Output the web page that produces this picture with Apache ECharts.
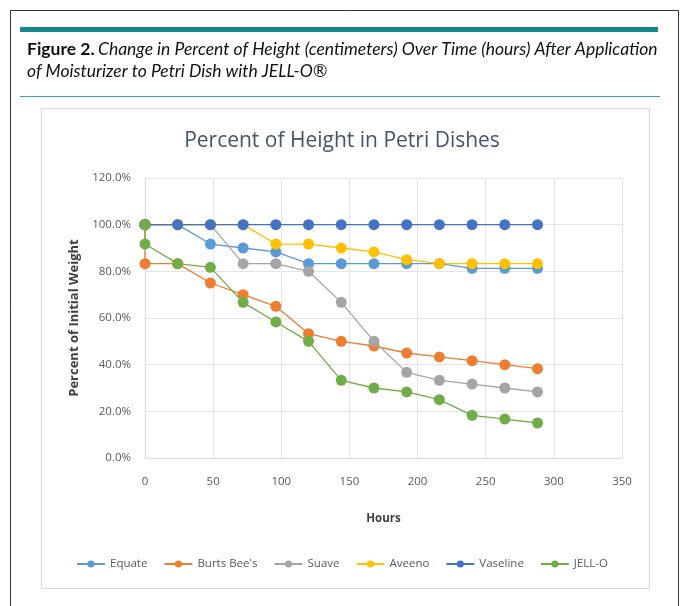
<!DOCTYPE html>
<html>
<head>
<meta charset="utf-8">
<script src="https://cdn.jsdelivr.net/npm/echarts@6/dist/echarts.min.js"></script>
<style>
html,body{margin:0;padding:0;background:#fff;}
#c{width:684px;height:606px;}
</style>
</head>
<body>
<div id="c"></div>
<script>
var hours = [0, 0, 24, 48, 72, 96, 120, 144, 168, 192, 216, 240, 264, 288];
var seriesNames = ['Equate', "Burts Bee's", 'Suave', 'Aveeno', 'Vaseline', 'JELL-O'];
var equate   = [100, 100, 100, 91.7, 90, 88.3, 83.3, 83.3, 83.3, 83.3, 83.3, 81.3, 81.3, 81.3];
var burtsBees = [100, 83.3, 83.3, 75, 70, 65, 53.3, 50, 48, 45, 43.3, 41.7, 40, 38.3];
var suave    = [100, 100, 100, 100, 83.3, 83.3, 80, 66.7, 50, 36.7, 33.3, 31.7, 30, 28.3];
var aveeno   = [100, 100, 100, 100, 100, 91.7, 91.7, 90, 88.3, 85, 83.3, 83.3, 83.3, 83.3];
var vaseline = [100, 100, 100, 100, 100, 100, 100, 100, 100, 100, 100, 100, 100, 100];
var jello    = [100, 91.7, 83.3, 81.7, 66.7, 58.3, 50, 33.3, 30, 28.3, 25, 18.3, 16.7, 15];
var colors = ['#5B9BD5', '#ED7D31', '#A5A5A5', '#FFC000', '#4472C4', '#70AD47'];
var allValues = [equate, burtsBees, suave, aveeno, vaseline, jello];

var chart = echarts.init(document.getElementById('c'), null, {renderer: 'canvas'});

var series = seriesNames.map(function (name, i) {
  return {
    name: name,
    type: 'line',
    data: hours.map(function (h, j) { return [h, allValues[i][j]]; }),
    symbol: 'circle',
    symbolSize: 11,
    showSymbol: true,
    itemStyle: {color: colors[i]},
    lineStyle: {color: colors[i], width: 1.3},
    z: 2 + i,
    animation: false
  };
});

var option = {
  animation: false,
  backgroundColor: '#ffffff',
  color: colors,
  title: [{
    text: 'Percent of Height in Petri Dishes',
    left: 'center',
    top: 126,
    textStyle: {fontFamily: 'Open Sans', fontSize: 21, fontWeight: 'normal', color: '#44546A'}
  }],
  graphic: [
    {type: 'rect', shape: {x: 10.5, y: 10.5, width: 668, height: 620}, style: {fill: 'none', stroke: '#333', lineWidth: 1}, silent: true},
    {type: 'rect', shape: {x: 20, y: 27, width: 638, height: 5}, style: {fill: '#16878A'}, silent: true},
    {type: 'rect', shape: {x: 20, y: 96, width: 640, height: 1}, style: {fill: '#3FA3A6'}, silent: true},
    {type: 'rect', shape: {x: 41.5, y: 108.5, width: 608, height: 480}, style: {fill: 'none', stroke: '#D9D9D9', lineWidth: 1}, silent: true},
    {type: 'text', left: 27, top: 40,
      style: {
        text: '{b|Figure 2.} {i|Change in Percent of Height (centimeters) Over Time (hours) After Application}\n{i|of Moisturizer to Petri Dish with JELL-O®}',
        rich: {
          b: {fontFamily: 'Lato', fontWeight: 'bold', fontSize: 17.5, fill: '#111', lineHeight: 22},
          i: {fontFamily: 'Lato', fontStyle: 'italic', fontSize: 17.5, fill: '#111', lineHeight: 22}
        }
      }, silent: true}
  ],
  legend: {
    data: seriesNames,
    bottom: 31,
    left: 'center',
    itemWidth: 28,
    itemHeight: 9,
    itemGap: 16,
    textStyle: {fontFamily: 'Open Sans', fontSize: 11.5, color: '#595959'}
  },
  grid: {left: 145, right: 62, top: 178, bottom: 148, containLabel: false},
  xAxis: {
    type: 'value',
    min: 0, max: 350, interval: 50,
    name: 'Hours',
    nameLocation: 'middle',
    nameGap: 55,
    nameTextStyle: {fontFamily: 'Open Sans', fontWeight: 'bold', fontSize: 11.5, color: '#404040'},
    axisLine: {show: true, lineStyle: {color: '#D9D9D9'}},
    axisTick: {show: false},
    axisLabel: {fontFamily: 'Open Sans', fontSize: 11.5, color: '#595959', margin: 18},
    splitLine: {show: true, lineStyle: {color: '#E4E4E4'}}
  },
  yAxis: {
    type: 'value',
    min: 0, max: 120, interval: 20,
    name: 'Percent of Initial Weight',
    nameLocation: 'middle',
    nameGap: 64,
    nameTextStyle: {fontFamily: 'Open Sans', fontWeight: 'bold', fontSize: 13, color: '#404040'},
    axisLine: {show: true, lineStyle: {color: '#D9D9D9'}},
    axisTick: {show: false},
    axisLabel: {fontFamily: 'Open Sans', fontSize: 11.5, color: '#595959', margin: 14,
      formatter: function (v) { return v.toFixed(1) + '%'; }},
    splitLine: {show: true, lineStyle: {color: '#E4E4E4'}}
  },
  series: series
};
chart.setOption(option);
</script>
</body>
</html>
